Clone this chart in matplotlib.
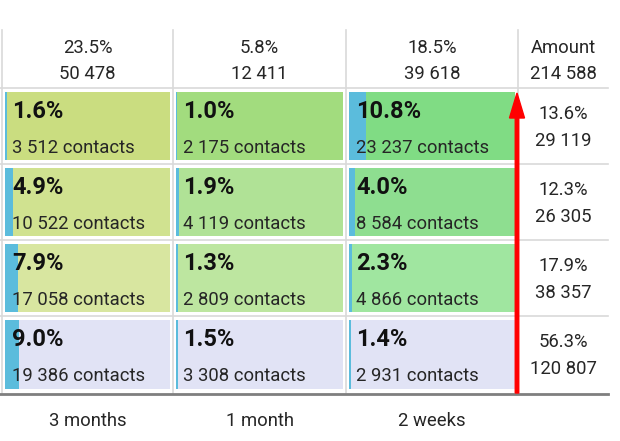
import matplotlib
matplotlib.use("Agg")
import matplotlib.pyplot as plt
from matplotlib.patches import Rectangle

plt.rcParams['font.family'] = ['Roboto', 'DejaVu Sans']

# ---- data ----
periods = ["3 months", "1 month", "2 weeks"]
col_pct = [23.5, 5.8, 18.5]
col_amount = [50478, 12411, 39618]
total_label = "Amount"
total_amount = 214588
row_pct = [13.6, 12.3, 17.9, 56.3]
row_amount = [29119, 26305, 38357, 120807]
cell_pct = [[1.6, 1.0, 10.8],
            [4.9, 1.9, 4.0],
            [7.9, 1.3, 2.3],
            [9.0, 1.5, 1.4]]
cell_contacts = [[3512, 2175, 23237],
                 [10522, 4119, 8584],
                 [17058, 2809, 4866],
                 [19386, 3308, 2931]]

# ---- style ----
cell_colors = [["#cadd80", "#a2dc7e", "#80dc84"],
               ["#d0e290", "#b0e296", "#8ede90"],
               ["#d8e6a0", "#bde6a0", "#a0e6a0"],
               ["#e1e3f5", "#e1e3f5", "#e1e3f5"]]
bar_color = "#5bbcdc"
grid_color = "#d9d9d9"
text_color = "#262626"
fs = 13.3
fs_bold = 17

col_edges = [2, 173, 346, 518, 608]
row_edges = [88, 164, 240, 316, 393]
header_top = 30


def fmt(n):
    return f"{n:,}".replace(",", " ")


fig = plt.figure(figsize=(6.2, 4.41), dpi=100)
ax = fig.add_axes([0, 0, 1, 1])
ax.set_xlim(0, 620)
ax.set_ylim(441, 0)
ax.axis("off")

# grid lines
for x in col_edges[:-1]:
    ax.plot([x, x], [header_top, row_edges[-1]], color=grid_color, lw=1.2, zorder=1)
for y in row_edges[:-1]:
    ax.plot([0, col_edges[-1]], [y, y], color=grid_color, lw=1.2, zorder=1)
ax.plot([0, col_edges[-1]], [row_edges[-1] + 0.5, row_edges[-1] + 0.5], color="#7f7f7f", lw=2, zorder=3)

# header
for j in range(3):
    cx = (col_edges[j] + col_edges[j + 1]) / 2
    ax.text(cx, 53, f"{col_pct[j]:.1f}%", ha="center", va="baseline", fontsize=fs, color=text_color)
    ax.text(cx, 79, fmt(col_amount[j]), ha="center", va="baseline", fontsize=fs, color=text_color)
    ax.text(cx, 426, periods[j], ha="center", va="baseline", fontsize=fs, color=text_color)
cx = (col_edges[3] + col_edges[4]) / 2
ax.text(cx, 53, total_label, ha="center", va="baseline", fontsize=fs, color=text_color)
ax.text(cx, 79, fmt(total_amount), ha="center", va="baseline", fontsize=fs, color=text_color)

# cells
for i in range(4):
    y0 = row_edges[i] + 4
    y1 = row_edges[i + 1] - 4
    for j in range(3):
        x0 = col_edges[j] + 2.5
        x1 = col_edges[j + 1] - 3
        w = x1 - x0
        ax.add_patch(Rectangle((x0, y0), w, y1 - y0, facecolor=cell_colors[i][j], edgecolor="none", zorder=2))
        ax.add_patch(Rectangle((x0, y0), w * cell_pct[i][j] / 100, y1 - y0, facecolor=bar_color, edgecolor="none", zorder=2.5))
        ax.text(x0 + 7.5, row_edges[i] + 29.5, f"{cell_pct[i][j]:.1f}%", ha="left", va="baseline",
                fontsize=fs_bold, fontweight="bold", color="#111111", zorder=4)
        ax.text(x0 + 7.5, row_edges[i] + 65, f"{fmt(cell_contacts[i][j])} contacts", ha="left", va="baseline",
                fontsize=fs, color=text_color, zorder=4)
    cx = (col_edges[3] + col_edges[4]) / 2
    ax.text(cx, row_edges[i] + 31, f"{row_pct[i]:.1f}%", ha="center", va="baseline", fontsize=fs, color=text_color)
    ax.text(cx, row_edges[i] + 58, fmt(row_amount[i]), ha="center", va="baseline", fontsize=fs, color=text_color)

# red arrow
ax.arrow(517, row_edges[-1], 0, -(row_edges[-1] - 93), width=3.5, head_width=15, head_length=25,
         length_includes_head=True, color="#ff0000", zorder=5)

fig.savefig("out.png", dpi=100)
